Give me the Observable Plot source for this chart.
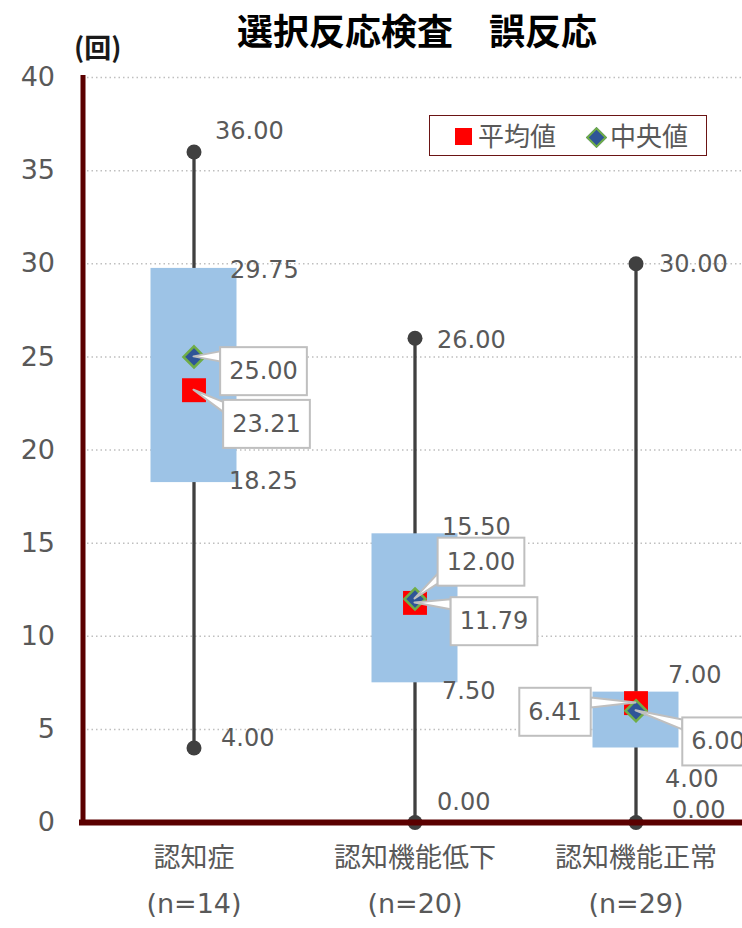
<!DOCTYPE html>
<html>
<head>
<meta charset="utf-8">
<script src="https://cdn.jsdelivr.net/npm/d3@7"></script>
<script src="https://cdn.jsdelivr.net/npm/@observablehq/plot@0.6"></script>
<style>
  body { margin: 0; background: #fff; }
  #wrap { position: relative; width: 742px; height: 928px; overflow: hidden;
          font-family: "DejaVu Sans", "Noto Sans CJK JP", sans-serif; }
  #title { position: absolute; left: 0; top: 8px; width: 834px; text-align: center;
           font-family: "Noto Sans CJK JP", sans-serif; font-weight: 700; font-size: 36px;
           line-height: 42px; color: #000; z-index: 2; }
  #unit { position: absolute; left: 74px; top: 31px; font-family: "Noto Sans CJK JP", sans-serif;
          font-weight: 700; font-size: 27px; line-height: 32px; color: #1a1a1a; z-index: 2; }
  #legend { position: absolute; left: 429px; top: 115px; width: 276px; height: 39px;
            border: 1.5px solid #6B1414; background: #fff; z-index: 2;
            font-family: "Noto Sans CJK JP", sans-serif; font-size: 26px; color: #595959; }
  #legend .sq { position: absolute; left: 25px; top: 12px; width: 17px; height: 17px; background: #FF0000; }
  #legend .dm { position: absolute; left: 159px; top: 14px; width: 11px; height: 11px; background: #2F5597;
                border: 2px solid #70AD47; transform: rotate(45deg); }
  #legend .t1 { position: absolute; left: 48px; top: 1px; line-height: 36px; }
  #legend .t2 { position: absolute; left: 180px; top: 1px; line-height: 36px; }
  #wrap svg { position: absolute; left: 0; top: 0; }
</style>
</head>
<body>
<div id="wrap">
  <div id="title"></div>
  <div id="unit"></div>
  <div id="legend"><div class="sq"></div><div class="t1"></div><div class="dm"></div><div class="t2"></div></div>
</div>
<script>
// ---- data ----
const titleText = "選択反応検査　誤反応";
const unitText = "(回)";
const legendLabels = ["平均値", "中央値"];
const categories = ["認知症", "認知機能低下", "認知機能正常"];
const sampleSizes = ["(n=14)", "(n=20)", "(n=29)"];
const minValues = [4.00, 0.00, 0.00];
const q1Values = [18.25, 7.50, 4.00];
const medianValues = [25.00, 12.00, 6.00];
const q3Values = [29.75, 15.50, 7.00];
const maxValues = [36.00, 26.00, 30.00];
const meanValues = [23.21, 11.79, 6.41];
const yTicks = [0, 5, 10, 15, 20, 25, 30, 35, 40];

// ---- style: label offsets (px) per category ----
const statNudge = {
  max: [[21, -20.5], [22, 2], [23, 1]],
  q3:  [[36, 2], [27, -7], [32, -16.5]],
  q1:  [[35, -1], [27, 8], [29, 31.5]],
  min: [[27, -10], [22, -20], [36, -12]]
};
const calloutNudge = {
  median: [[69.5, 14.6], [66, -37], [82, 31]],
  mean:   [[72.5, 34], [79, 18.6], [-81, 9]]
};

document.getElementById("title").textContent = titleText;
document.getElementById("unit").textContent = unitText;
document.querySelector("#legend .t1").textContent = legendLabels[0];
document.querySelector("#legend .t2").textContent = legendLabels[1];

const rows = categories.map((cat, i) => ({
  cat, n: sampleSizes[i], min: minValues[i], q1: q1Values[i], median: medianValues[i],
  q3: q3Values[i], max: maxValues[i], mean: meanValues[i]
}));
const ends = rows.flatMap(r => [{cat: r.cat, value: r.min}, {cat: r.cat, value: r.max}]);

const fmt = d3.format(".2f");
const labelColor = "#595959";

const statMarks = [];
for (const stat of ["max", "q3", "q1", "min"]) {
  rows.forEach((r, i) => {
    const [dx, dy] = statNudge[stat][i];
    statMarks.push(Plot.text([r], {
      x: "cat", y: stat, text: d => fmt(d[stat]),
      dx, dy, textAnchor: "start", lineAnchor: "middle",
      fontSize: 24, fill: labelColor
    }));
  });
}

const callouts = [];
const calloutMarks = [];
for (const stat of ["median", "mean"]) {
  rows.forEach((r, i) => {
    const [dx, dy] = calloutNudge[stat][i];
    const id = "callout-" + callouts.length;
    callouts.push({id, cat: r.cat, value: r[stat], label: fmt(r[stat])});
    calloutMarks.push(Plot.text([r], {
      x: "cat", y: stat, text: d => fmt(d[stat]),
      dx, dy, textAnchor: "middle", lineAnchor: "middle",
      fontSize: 24, fill: labelColor, className: id
    }));
  });
}

const chart = Plot.plot({
  width: 742,
  height: 928,
  marginTop: 77,
  marginBottom: 106,
  marginLeft: 82.5,
  marginRight: 0,
  x: {domain: categories, range: [82.5, 745.5], padding: 0, axis: null},
  y: {domain: [0, 40], axis: null},
  style: {fontFamily: '"DejaVu Sans", "Noto Sans CJK JP", sans-serif', background: "transparent"},
  marks: [
    Plot.gridY(yTicks, {stroke: "#BFBFBF", strokeOpacity: 1, strokeWidth: 1.5, strokeDasharray: "1.5,3"}),
    Plot.axisY(yTicks, {tickSize: 0, tickPadding: 28, fontSize: 27, color: labelColor, label: null, tickFormat: d => String(d)}),
    Plot.ruleX(rows, {x: "cat", y1: "min", y2: "max", stroke: "#404040", strokeWidth: 3.3}),
    Plot.dot(ends, {x: "cat", y: "value", r: 7.5, fill: "#404040"}),
    Plot.barY(rows, {x: "cat", y1: "q1", y2: "q3", fill: "#9DC3E6", insetLeft: 67.5, insetRight: 67.5}),
    Plot.ruleY([0], {stroke: "#5B0000", strokeWidth: 6, insetLeft: -3.5}),
    Plot.frame({anchor: "left", stroke: "#5B0000", strokeWidth: 5}),
    Plot.dot(rows, {x: "cat", y: "mean", symbol: "square", r: 13.5, fill: "#FF0000"}),
    Plot.dot(rows, {x: "cat", y: "median", symbol: "diamond2", r: 9.5, fill: "#2F5597", stroke: "#70AD47", strokeWidth: 2.5}),
    ...statMarks,
    ...calloutMarks,
    Plot.text(rows, {x: "cat", text: "cat", frameAnchor: "bottom", dy: 44, fontSize: 27, fill: labelColor}),
    Plot.text(rows, {x: "cat", text: "n", frameAnchor: "bottom", dy: 90, fontSize: 27, fill: labelColor})
  ]
});

document.getElementById("wrap").appendChild(chart);

// ---- callout boxes with pointers ----
const xs = chart.scale("x"), ys = chart.scale("y");
const bw = xs.bandwidth || 0;
const svgRect = chart.getBoundingClientRect();
const ns = "http://www.w3.org/2000/svg";
const allTexts = Array.from(chart.querySelectorAll("text"));
for (const c of callouts) {
  let t = chart.querySelector("." + c.id + " text") || chart.querySelector("text." + c.id);
  if (!t) t = allTexts.find(el => el.textContent === c.label);
  if (!t) continue;
  const g = t.parentNode;
  const b = t.getBoundingClientRect();
  const cx = b.left - svgRect.left + b.width / 2;
  const cy = b.top - svgRect.top + b.height / 2;
  const x0 = cx - b.width / 2 - 9, x1 = cx + b.width / 2 + 9;
  const y0 = cy - 24, y1 = cy + 24;
  const px = xs.apply(c.cat) + bw / 2, py = ys.apply(c.value);
  const ex = px < x0 ? x0 : x1;
  const by = Math.max(y0 + 7, Math.min(y1 - 7, py));
  const og = document.createElementNS(ns, "g");
  const poly = document.createElementNS(ns, "polygon");
  poly.setAttribute("points", `${px},${py} ${ex},${by - 5} ${ex},${by + 5}`);
  poly.setAttribute("fill", "#fff");
  poly.setAttribute("stroke", "#BFBFBF");
  poly.setAttribute("stroke-width", "2");
  poly.setAttribute("stroke-linejoin", "round");
  const rect = document.createElementNS(ns, "rect");
  rect.setAttribute("x", x0); rect.setAttribute("y", y0);
  rect.setAttribute("width", x1 - x0); rect.setAttribute("height", y1 - y0);
  rect.setAttribute("fill", "#fff");
  rect.setAttribute("stroke", "#BFBFBF");
  rect.setAttribute("stroke-width", "2");
  og.appendChild(poly);
  og.appendChild(rect);
  chart.appendChild(og);
  chart.appendChild(g);
}
</script>
</body>
</html>
